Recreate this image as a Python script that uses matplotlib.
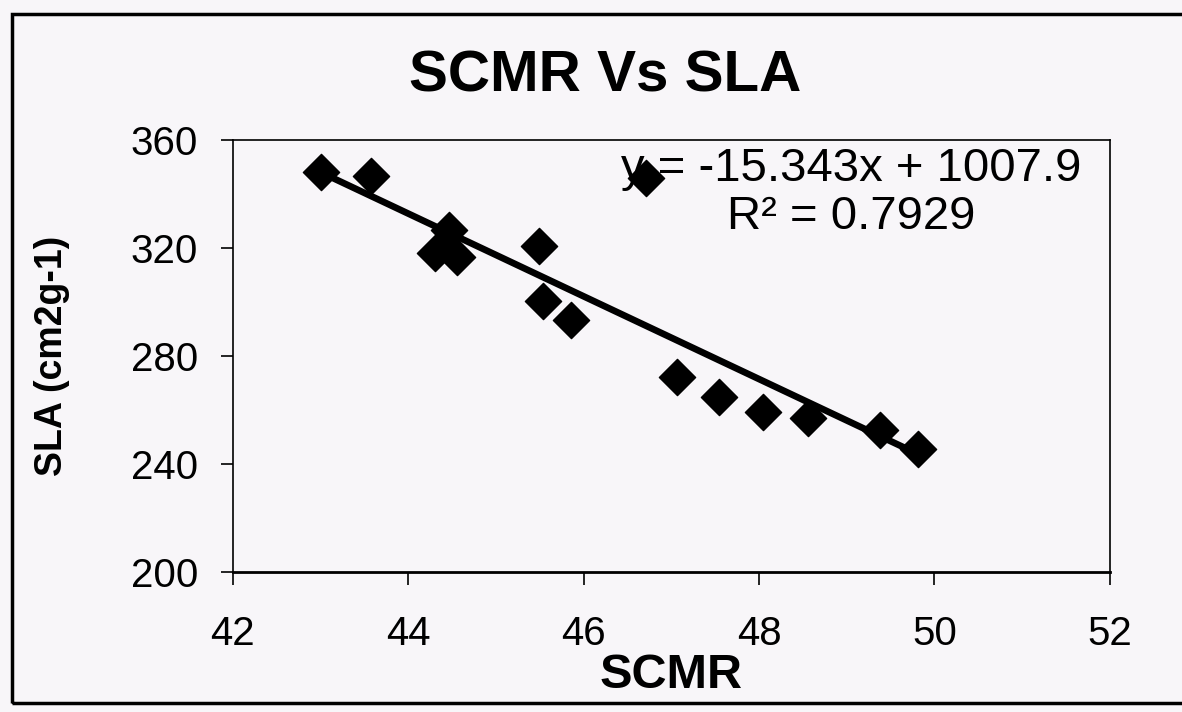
import matplotlib.pyplot as plt
from matplotlib.patches import Rectangle

plt.rcParams['font.family'] = ['Liberation Sans', 'DejaVu Sans']

# data
scmr = [43.01, 43.58, 44.46, 44.31, 44.56, 45.49, 45.54, 45.86, 46.71,
        47.06, 47.54, 48.04, 48.56, 49.38, 49.81]
sla = [348.1, 346.7, 326.7, 318.1, 316.7, 320.7, 300.4, 293.3, 345.9,
       272.2, 264.8, 259.3, 257.0, 252.6, 245.6]
slope = -15.343
intercept = 1007.9
r_squared = 0.7929
x_ticks = [42, 44, 46, 48, 50, 52]
y_ticks = [200, 240, 280, 320, 360]

bg = '#f8f6f9'
fig = plt.figure(figsize=(11.82, 7.12), dpi=100, facecolor=bg)
ax = fig.add_axes([0.197, 0.197, 0.742, 0.606], facecolor=bg)

ax.scatter(scmr, sla, marker='D', s=340, color='black', zorder=3)
x_fit = [min(scmr), max(scmr)]
y_fit = [slope * x + intercept for x in x_fit]
ax.plot(x_fit, y_fit, color='black', lw=4.8, zorder=2)

ax.set_xlim(x_ticks[0], x_ticks[-1])
ax.set_ylim(y_ticks[0], y_ticks[-1])
ax.set_xticks(x_ticks)
ax.set_yticks(y_ticks)
ax.tick_params(direction='out', length=9, width=1.2, labelsize=29)
ax.tick_params(axis='y', pad=16)
ax.tick_params(axis='x', pad=22)
for s in ax.spines.values():
    s.set_linewidth(1.2)
ax.spines['bottom'].set_linewidth(2)

ax.set_xlabel('SCMR', fontsize=35, fontweight='bold', labelpad=0)
ax.set_ylabel('SLA (cm2g-1)', fontsize=27, fontweight='bold', labelpad=44)
fig.text(0.512, 0.893, 'SCMR Vs SLA', fontsize=42, fontweight='bold',
         ha='center', va='center')

ax.text(0.705, 0.878, f'y = {slope}x + {intercept}\nR\u00b2 = {r_squared}',
        transform=ax.transAxes, fontsize=34, ha='center', va='center',
        linespacing=1.12)

# outer frame of the scanned chart
fig.patches.append(Rectangle((12 / 1182, 1 - 703 / 712), 1.2, (703 - 14) / 712,
                             transform=fig.transFigure, fill=False,
                             edgecolor='black', lw=2.5))

fig.savefig('out.png', dpi=100, facecolor=bg)
